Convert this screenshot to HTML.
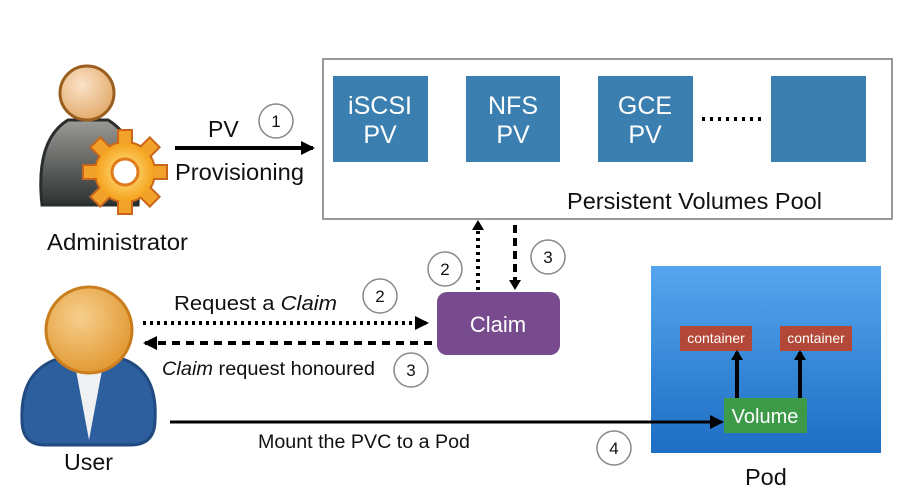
<!DOCTYPE html>
<html><head><meta charset="utf-8"><style>
html,body{margin:0;padding:0;background:#fff;}
svg{display:block;font-family:"Liberation Sans",sans-serif;}
</style></head><body>
<svg width="920" height="500" viewBox="0 0 920 500" xmlns="http://www.w3.org/2000/svg">
<defs>
<radialGradient id="hd" cx="0.4" cy="0.35" r="0.7"><stop offset="0" stop-color="#fbe3c8"/><stop offset="1" stop-color="#e2a868"/></radialGradient>
<radialGradient id="uh" cx="0.4" cy="0.35" r="0.7"><stop offset="0" stop-color="#f7cf8e"/><stop offset="1" stop-color="#e0962e"/></radialGradient>
<linearGradient id="gb" x1="0" y1="0" x2="0" y2="1"><stop offset="0" stop-color="#9a9a96"/><stop offset="1" stop-color="#2e3232"/></linearGradient>
<linearGradient id="pod" x1="0" y1="0" x2="0" y2="1"><stop offset="0" stop-color="#55a6ee"/><stop offset="1" stop-color="#1d6dc4"/></linearGradient>
<radialGradient id="gear" cx="0.5" cy="0.5" r="0.5"><stop offset="0" stop-color="#ffe98a"/><stop offset="1" stop-color="#f5a21e"/></radialGradient>
<marker id="ah" markerWidth="10" markerHeight="12" refX="8" refY="6" orient="auto" markerUnits="userSpaceOnUse" viewBox="0 0 10 12"><path d="M0,0 L10,6 L0,12 z" fill="#000"/></marker>
<marker id="ah2" markerWidth="14" markerHeight="14" refX="12" refY="7" orient="auto" markerUnits="userSpaceOnUse" viewBox="0 0 14 14"><path d="M0,0 L14,7 L0,14 z" fill="#000"/></marker>
</defs>

<!-- Administrator -->
<path d="M42,205 Q35,140 68,120 L108,120 Q142,140 138,205 Z" fill="url(#gb)" stroke="#2a2d2d" stroke-width="3"/>
<circle cx="87" cy="93" r="27" fill="url(#hd)" stroke="#9a5e1e" stroke-width="3"/>
<g transform="translate(125,172)">
<g fill="#f2a22a" stroke="#c9661a" stroke-width="2">
<circle r="30"/>
<rect x="-7" y="-42" width="14" height="16"/>
<rect x="-7" y="-42" width="14" height="16" transform="rotate(45)"/>
<rect x="-7" y="-42" width="14" height="16" transform="rotate(90)"/>
<rect x="-7" y="-42" width="14" height="16" transform="rotate(135)"/>
<rect x="-7" y="-42" width="14" height="16" transform="rotate(180)"/>
<rect x="-7" y="-42" width="14" height="16" transform="rotate(225)"/>
<rect x="-7" y="-42" width="14" height="16" transform="rotate(270)"/>
<rect x="-7" y="-42" width="14" height="16" transform="rotate(315)"/>
</g>
<circle r="29" fill="url(#gear)"/>
<circle r="13" fill="#fff" stroke="#e07a1a" stroke-width="3"/>
</g>
<text x="47" y="250" font-size="23.5" fill="#111" textLength="141" lengthAdjust="spacingAndGlyphs">Administrator</text>

<!-- User -->
<path d="M22,420 Q20,370 60,358 L120,358 Q158,370 155,420 Q155,445 130,445 L45,445 Q22,445 22,420 Z" fill="#2d5f9e" stroke="#214a80" stroke-width="3"/>
<path d="M75,365 L89,440 L103,365 Z" fill="#eef0f2"/>
<circle cx="89" cy="330" r="43" fill="url(#uh)" stroke="#c97d1c" stroke-width="3"/>
<text x="64" y="470" font-size="23.5" fill="#111" textLength="49" lengthAdjust="spacingAndGlyphs">User</text>

<!-- PV arrow -->
<line x1="175" y1="148" x2="313" y2="148" stroke="#000" stroke-width="4" marker-end="url(#ah2)"/>
<text x="208" y="137" font-size="23" fill="#111">PV</text>
<text x="175" y="180" font-size="23" fill="#111" textLength="129" lengthAdjust="spacingAndGlyphs">Provisioning</text>

<!-- Pool -->
<rect x="323" y="59" width="569" height="160" fill="#fff" stroke="#999" stroke-width="2"/>
<rect x="333" y="76" width="95" height="86" fill="#3a7fb0"/>
<rect x="466" y="76" width="94" height="86" fill="#3a7fb0"/>
<rect x="598" y="76" width="95" height="86" fill="#3a7fb0"/>
<rect x="771" y="76" width="95" height="86" fill="#3a7fb0"/>
<g fill="#fff" font-size="25" text-anchor="middle">
<text x="380" y="114">iSCSI</text><text x="380" y="143">PV</text>
<text x="513" y="114">NFS</text><text x="513" y="143">PV</text>
<text x="645" y="114">GCE</text><text x="645" y="143">PV</text>
</g>
<line x1="702" y1="119" x2="762" y2="119" stroke="#000" stroke-width="4" stroke-dasharray="3,5"/>
<text x="567" y="209" font-size="23" fill="#111" textLength="255" lengthAdjust="spacingAndGlyphs">Persistent Volumes Pool</text>

<!-- Claim -->
<rect x="437" y="292" width="123" height="63" rx="10" fill="#784b8e"/>
<text x="498" y="332" font-size="22" fill="#fff" text-anchor="middle">Claim</text>
<line x1="478" y1="290" x2="478" y2="222" stroke="#000" stroke-width="4" stroke-dasharray="3,4" marker-end="url(#ah)"/>
<line x1="515" y1="225" x2="515" y2="288" stroke="#000" stroke-width="4" stroke-dasharray="8,5" marker-end="url(#ah)"/>

<!-- request/honoured -->
<text x="174" y="310" font-size="20" fill="#111" textLength="163" lengthAdjust="spacingAndGlyphs">Request a <tspan font-style="italic">Claim</tspan></text>
<line x1="143" y1="323" x2="427" y2="323" stroke="#000" stroke-width="4" stroke-dasharray="3,4" marker-end="url(#ah2)"/>
<line x1="432" y1="343" x2="145" y2="343" stroke="#000" stroke-width="4" stroke-dasharray="8,6" marker-end="url(#ah2)"/>
<text x="162" y="375" font-size="19.5" fill="#111" textLength="213" lengthAdjust="spacingAndGlyphs"><tspan font-style="italic">Claim</tspan> request honoured</text>

<!-- Pod -->
<rect x="651" y="266" width="230" height="187" fill="url(#pod)"/>
<rect x="680" y="326" width="72" height="25" fill="#b34838"/>
<rect x="780" y="326" width="72" height="25" fill="#b34838"/>
<text x="716" y="343" font-size="14" fill="#fff" text-anchor="middle">container</text>
<text x="816" y="343" font-size="14" fill="#fff" text-anchor="middle">container</text>
<rect x="724" y="398" width="83" height="35" fill="#3c9a48"/>
<text x="765" y="423" font-size="20" fill="#fff" text-anchor="middle">Volume</text>
<line x1="737" y1="398" x2="737" y2="352" stroke="#000" stroke-width="4" marker-end="url(#ah)"/>
<line x1="800" y1="398" x2="800" y2="352" stroke="#000" stroke-width="4" marker-end="url(#ah)"/>
<text x="745" y="485" font-size="23.5" fill="#111">Pod</text>

<!-- Mount -->
<line x1="170" y1="422" x2="722" y2="422" stroke="#000" stroke-width="3" marker-end="url(#ah2)"/>
<text x="258" y="448" font-size="19" fill="#111" textLength="212" lengthAdjust="spacingAndGlyphs">Mount the PVC to a Pod</text>

<!-- numbered circles -->
<g fill="#fff" stroke="#888" stroke-width="1.5">
<circle cx="276" cy="121" r="17"/>
<circle cx="445" cy="269" r="17"/>
<circle cx="548" cy="257" r="17"/>
<circle cx="380" cy="296" r="17"/>
<circle cx="411" cy="370" r="17"/>
<circle cx="614" cy="448" r="17"/>
</g>
<g font-size="17" fill="#111" text-anchor="middle">
<text x="276" y="127">1</text>
<text x="445" y="275">2</text>
<text x="548" y="263">3</text>
<text x="380" y="302">2</text>
<text x="411" y="376">3</text>
<text x="614" y="454">4</text>
</g>
</svg>
</body></html>
